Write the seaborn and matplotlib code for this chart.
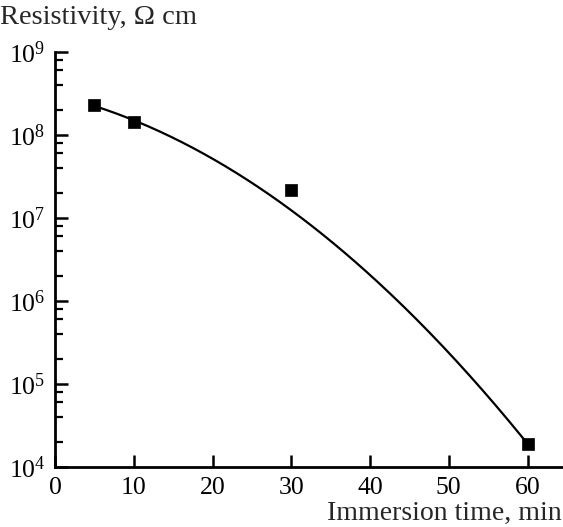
import numpy as np
import pandas as pd
import matplotlib
matplotlib.use("Agg")
import matplotlib.pyplot as plt
from matplotlib.ticker import LogLocator, LogFormatterMathtext, NullFormatter, FixedLocator
import seaborn as sns

# Measured resistivity vs. immersion time
immersion_time_min = [5, 10, 30, 60]
resistivity_ohm_cm = [2.3e8, 1.45e8, 2.15e7, 1.9e4]
fit_weights = [1.0, 1.0, 0.15, 1.0]

x_ticks = [0, 10, 20, 30, 40, 50, 60]

sns.set_theme(style="ticks")
plt.rcParams["font.family"] = ["Liberation Serif", "DejaVu Serif"]
plt.rcParams["mathtext.fontset"] = "custom"
plt.rcParams["mathtext.rm"] = "Liberation Serif"
plt.rcParams["mathtext.it"] = "Liberation Serif:italic"

df = pd.DataFrame({"t": immersion_time_min, "rho": resistivity_ohm_cm})

# Smooth trend: weighted quadratic fit of log10(resistivity) against time
coef = np.polyfit(df["t"], np.log10(df["rho"]), 2, w=fit_weights)
t_fit = np.linspace(df["t"].min(), df["t"].max(), 200)
fit = pd.DataFrame({"t": t_fit, "rho": 10 ** np.polyval(coef, t_fit)})

fig = plt.figure(figsize=(5.63, 5.27), dpi=100)
ax = fig.add_axes([55 / 563, 1 - 467 / 527, 1 - 55 / 563, (467 - 52) / 527])

sns.lineplot(data=fit, x="t", y="rho", ax=ax, color="black", linewidth=1.6, zorder=2)
sns.scatterplot(data=df, x="t", y="rho", ax=ax, marker="s", s=85, color="black",
                edgecolor="black", linewidth=0.5, zorder=3)

ax.set_yscale("log")
ax.set_ylim(1e4, 1e9)
ax.set_xlim(0, 64.5)
ax.xaxis.set_major_locator(FixedLocator(x_ticks))
ax.yaxis.set_major_locator(LogLocator(base=10, numticks=10))
ax.yaxis.set_major_formatter(LogFormatterMathtext())
ax.yaxis.set_minor_locator(LogLocator(base=10, subs=[2, 4, 6, 8], numticks=10))
ax.yaxis.set_minor_formatter(NullFormatter())

for side in ["top", "right"]:
    ax.spines[side].set_visible(False)
for side in ["left", "bottom"]:
    ax.spines[side].set_linewidth(2.0)
    ax.spines[side].set_color("black")

ax.tick_params(axis="both", which="major", direction="in", length=9, width=1.8,
               color="black", labelsize=18.5, labelcolor="black")
ax.tick_params(axis="y", which="major", pad=7)
ax.tick_params(axis="x", which="major", pad=7)
ax.tick_params(axis="y", which="minor", direction="in", length=6, width=1.6, color="black")

ax.set_xlabel("")
ax.set_ylabel("")
fig.text(0 / 563, 1 - 18 / 527, "Resistivity, Ω cm", fontsize=20.5, ha="left", va="center")
fig.text(562 / 563, 1 - 513 / 527, "Immersion time, min", fontsize=20, ha="right", va="center")

fig.savefig("out.png", dpi=100)
